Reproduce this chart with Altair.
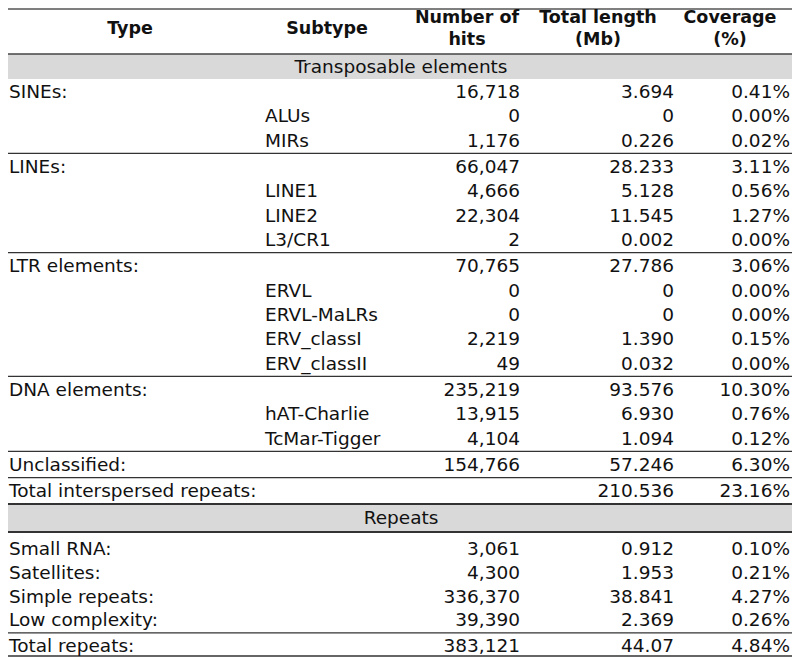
import altair as alt
import pandas as pd

# ---------------- data ----------------
headers = ["Type", "Subtype", "Number of\nhits", "Total length\n(Mb)", "Coverage\n(%)"]
sections = ["Transposable elements", "Repeats"]

te_types = ["SINEs:", "", "", "LINEs:", "", "", "", "LTR elements:", "", "", "", "",
            "DNA elements:", "", "", "Unclassified:", "Total interspersed repeats:"]
te_subtypes = ["", "ALUs", "MIRs", "", "LINE1", "LINE2", "L3/CR1", "", "ERVL", "ERVL-MaLRs",
               "ERV_classI", "ERV_classII", "", "hAT-Charlie", "TcMar-Tigger", "", ""]
te_hits = ["16,718", "0", "1,176", "66,047", "4,666", "22,304", "2", "70,765", "0", "0",
           "2,219", "49", "235,219", "13,915", "4,104", "154,766", ""]
te_length = ["3.694", "0", "0.226", "28.233", "5.128", "11.545", "0.002", "27.786", "0", "0",
             "1.390", "0.032", "93.576", "6.930", "1.094", "57.246", "210.536"]
te_cov = ["0.41%", "0.00%", "0.02%", "3.11%", "0.56%", "1.27%", "0.00%", "3.06%", "0.00%",
          "0.00%", "0.15%", "0.00%", "10.30%", "0.76%", "0.12%", "6.30%", "23.16%"]
te_breaks = [2, 6, 11, 14, 15]   # a rule follows these rows

rep_types = ["Small RNA:", "Satellites:", "Simple repeats:", "Low complexity:", "Total repeats:"]
rep_hits = ["3,061", "4,300", "336,370", "39,390", "383,121"]
rep_length = ["0.912", "1.953", "38.841", "2.369", "44.07"]
rep_cov = ["0.10%", "0.21%", "4.27%", "0.26%", "4.84%"]
rep_breaks = [3]

# ---------------- layout ----------------
FONT = "DejaVu Sans"
FS = 18.5
FS_HDR = 17.5
X0, X1 = 8, 792
X_TYPE, X_SUB, X_HITS, X_LEN, X_COV = 9, 265, 520, 674, 790
HDR_CX = [130, 327, 467, 598, 730]

TOP = 9
HDR_BOT = 54
BAND1_BOT = 79
P1, G1 = 24.33, 2.0
P2, G2 = 23.8, 2.0

left_rows, right_rows, center_rows, hdr_rows = [], [], [], []
rules, rects = [], []

rules.append(dict(x=X0, x2=X1, y=TOP, w=1.5, c="#555555"))
for i, h in enumerate(headers):
    lines = h.split("\n")
    if len(lines) == 1:
        hdr_rows.append(dict(x=HDR_CX[i], y=29, t=lines[0]))
    else:
        hdr_rows.append(dict(x=HDR_CX[i], y=17.5, t=lines[0]))
        hdr_rows.append(dict(x=HDR_CX[i], y=39.5, t=lines[1]))

rects.append(dict(x=X0, x2=X1, y=HDR_BOT, y2=BAND1_BOT))
rules.append(dict(x=X0, x2=X1, y=HDR_BOT, w=1.5, c="#444444"))
center_rows.append(dict(x=(X0 + X1) / 2 + 1, y=(HDR_BOT + BAND1_BOT) / 2 + 0.5, t=sections[0]))

y = BAND1_BOT + 13
last = y
for i in range(len(te_types)):
    left_rows.append(dict(x=X_TYPE, y=y, t=te_types[i]))
    left_rows.append(dict(x=X_SUB, y=y, t=te_subtypes[i]))
    right_rows.append(dict(x=X_HITS, y=y, t=te_hits[i]))
    right_rows.append(dict(x=X_LEN, y=y, t=te_length[i]))
    right_rows.append(dict(x=X_COV, y=y, t=te_cov[i]))
    last = y
    if i in te_breaks:
        rules.append(dict(x=X0, x2=X1, y=y + (P1 + G1) / 2 - 0.5, w=1.2, c="#333333"))
        y += P1 + G1
    else:
        y += P1

band2_top = last + 12.7
band2_bot = band2_top + 28
rects.append(dict(x=X0, x2=X1, y=band2_top, y2=band2_bot))
rules.append(dict(x=X0, x2=X1, y=band2_top, w=2, c="#333333"))
rules.append(dict(x=X0, x2=X1, y=band2_bot, w=2, c="#333333"))
center_rows.append(dict(x=(X0 + X1) / 2 + 1, y=(band2_top + band2_bot) / 2, t=sections[1]))

y = band2_bot + 17
for i in range(len(rep_types)):
    left_rows.append(dict(x=X_TYPE, y=y, t=rep_types[i]))
    right_rows.append(dict(x=X_HITS, y=y, t=rep_hits[i]))
    right_rows.append(dict(x=X_LEN, y=y, t=rep_length[i]))
    right_rows.append(dict(x=X_COV, y=y, t=rep_cov[i]))
    last = y
    if i in rep_breaks:
        rules.append(dict(x=X0, x2=X1, y=y + (P2 + G2) / 2 - 0.5, w=1.2, c="#333333"))
        y += P2 + G2
    else:
        y += P2
rules.append(dict(x=X0, x2=X1, y=min(last + 12.5, 656), w=2, c="#666666"))

xs = alt.Scale(domain=[8, 792], range=[0, 784], nice=False, zero=False)
ys = alt.Scale(domain=[8, 657], range=[0, 649], nice=False, zero=False)

def X(f="x"):
    return alt.X(f + ":Q", scale=xs, axis=None)

def Y(f="y"):
    return alt.Y(f + ":Q", scale=ys, axis=None)

band_layer = alt.Chart(pd.DataFrame(rects)).mark_rect(color="#d9d9d9").encode(
    x=X(), x2="x2:Q", y=Y(), y2="y2:Q")
rule_layer = alt.Chart(pd.DataFrame(rules)).mark_rule().encode(
    x=X(), x2="x2:Q", y=Y(),
    strokeWidth=alt.StrokeWidth("w:Q", scale=None),
    color=alt.Color("c:N", scale=None))

txt = dict(font=FONT, baseline="middle", color="#111111")
left_layer = alt.Chart(pd.DataFrame(left_rows)).mark_text(align="left", fontSize=FS, **txt).encode(
    x=X(), y=Y(), text="t:N")
right_layer = alt.Chart(pd.DataFrame(right_rows)).mark_text(align="right", fontSize=FS, **txt).encode(
    x=X(), y=Y(), text="t:N")
center_layer = alt.Chart(pd.DataFrame(center_rows)).mark_text(align="center", fontSize=FS, **txt).encode(
    x=X(), y=Y(), text="t:N")
hdr_layer = alt.Chart(pd.DataFrame(hdr_rows)).mark_text(
    align="center", fontWeight="bold", fontSize=FS_HDR, **txt).encode(x=X(), y=Y(), text="t:N")

chart = alt.layer(band_layer, rule_layer, left_layer, right_layer, center_layer, hdr_layer).properties(
    width=784, height=649, padding=0, autosize=alt.AutoSizeParams(type="none"),
    background="white"
).configure_view(stroke=None)

chart.save("out.html", embed_options={"renderer": "svg", "actions": False})
